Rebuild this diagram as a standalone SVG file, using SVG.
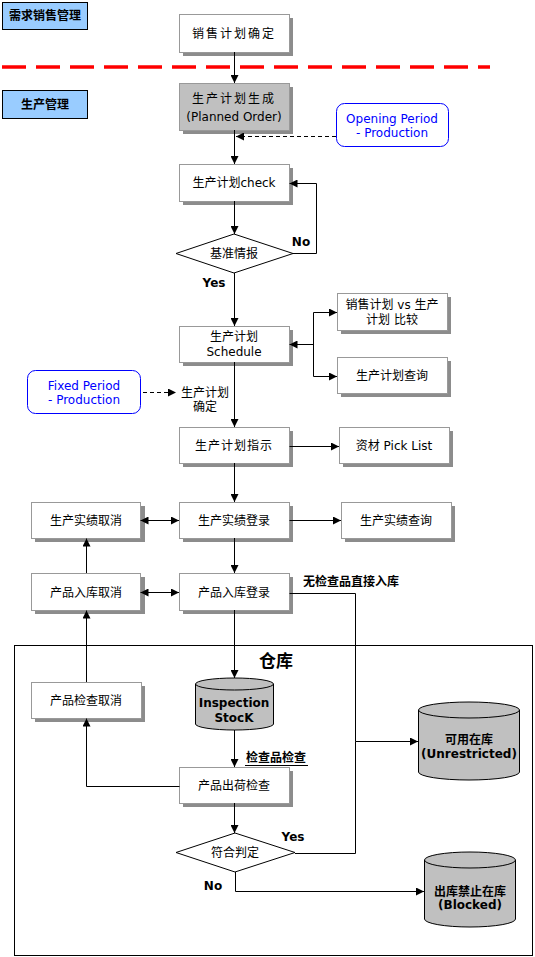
<svg xmlns="http://www.w3.org/2000/svg" width="535" height="957" viewBox="0 0 535 957">
<defs>
<style>
text{font-family:"DejaVu Sans","Noto Sans CJK SC",sans-serif;font-size:12px;fill:#000;text-anchor:middle}
.b{font-weight:bold}
.blue{fill:#0000FF}
.sh{fill:#8c8c8c}
.box{fill:#fff;stroke:#999;stroke-width:1}
.gbox{fill:#C0C0C0;stroke:#999;stroke-width:1}
.lab{fill:#99CCFF;stroke:#000;stroke-width:1}
.cyl{fill:#C0C0C0;stroke:#000;stroke-width:1}
.dia{fill:#fff;stroke:#000;stroke-width:1}
.rnd{fill:#fff;stroke:#0000FF;stroke-width:1}
.c{fill:none;stroke:#000;stroke-width:1}
.d{fill:none;stroke:#000;stroke-width:1;stroke-dasharray:4 3}
.ar{marker-end:url(#ah)}
.dbl{marker-start:url(#ah);marker-end:url(#ah)}
</style>
<marker id="ah" viewBox="0 0 10 10" refX="10" refY="5" markerWidth="8" markerHeight="8" markerUnits="userSpaceOnUse" orient="auto-start-reverse">
<path d="M0,0 L10,5 L0,10 z" fill="#000"/>
</marker>
</defs>
<rect width="535" height="957" fill="#fff"/>

<g id="lane-sales"><rect class="lab" x="2.5" y="2.5" width="85" height="27"/><text class="b" x="45" y="20">需求销售管理</text></g>
<g id="lane-prod"><rect class="lab" x="2.5" y="90.5" width="85" height="28"/><text class="b" x="45" y="109">生产管理</text></g>
<line x1="2" y1="67" x2="490" y2="67" stroke="#FF0000" stroke-width="3.5" stroke-dasharray="24 10"/>

<g id="warehouse"><rect x="14.5" y="645.5" width="518" height="310" fill="none" stroke="#000"/><text class="b" x="276" y="667" style="font-size:17px">仓库</text></g>

<g id="n1"><rect class="sh" x="183" y="18" width="110" height="38"/><rect class="box" x="179.5" y="14.5" width="110" height="38"/><text x="234" y="38" letter-spacing="2">销售计划确定</text></g>
<g id="n2"><rect class="sh" x="183" y="87" width="110" height="47"/><rect class="gbox" x="179.5" y="83.5" width="110" height="47"/><text x="234" y="103" letter-spacing="2">生产计划生成</text><text x="234" y="121">(Planned Order)</text></g>
<g id="opening"><rect class="rnd" x="336.5" y="103.5" width="112" height="43" rx="8"/><text class="blue" x="392" y="123">Opening Period</text><text class="blue" x="392" y="137">- Production</text></g>
<g id="n3"><rect class="sh" x="183" y="168" width="110" height="37"/><rect class="box" x="179.5" y="164.5" width="110" height="37"/><text x="234" y="187">生产计划check</text></g>
<g id="d1"><polygon class="dia" points="234,234 293,253.5 234,273 176,253.5"/><text x="234" y="258">基准情报</text></g>
<g id="n4"><rect class="sh" x="183" y="330" width="110" height="36"/><rect class="box" x="179.5" y="326.5" width="110" height="36"/><text x="234" y="341">生产计划</text><text x="234" y="356">Schedule</text></g>
<g id="n5"><rect class="sh" x="341" y="297" width="110" height="37"/><rect class="box" x="337.5" y="293.5" width="110" height="37"/><text x="392" y="309">销售计划 vs 生产</text><text x="392" y="324">计划 比较</text></g>
<g id="n6"><rect class="sh" x="341" y="361" width="110" height="36"/><rect class="box" x="337.5" y="357.5" width="110" height="36"/><text x="392" y="380">生产计划查询</text></g>
<g id="fixed"><rect class="rnd" x="27.5" y="370.5" width="113" height="43" rx="8"/><text class="blue" x="84" y="390">Fixed Period</text><text class="blue" x="84" y="404">- Production</text></g>
<g id="t1"><text x="205" y="397">生产计划</text><text x="205" y="411">确定</text></g>
<g id="n7"><rect class="sh" x="183" y="431" width="110" height="36"/><rect class="box" x="179.5" y="427.5" width="110" height="36"/><text x="234" y="450" letter-spacing="1">生产计划指示</text></g>
<g id="n8"><rect class="sh" x="343" y="431" width="110" height="36"/><rect class="box" x="339.5" y="427.5" width="110" height="36"/><text x="394" y="450">资材 Pick List</text></g>
<g id="n9"><rect class="sh" x="35" y="506" width="110" height="36"/><rect class="box" x="31.5" y="502.5" width="109" height="36"/><text x="86" y="525">生产实绩取消</text></g>
<g id="n10"><rect class="sh" x="183" y="506" width="110" height="36"/><rect class="box" x="179.5" y="502.5" width="110" height="36"/><text x="234" y="525">生产实绩登录</text></g>
<g id="n11"><rect class="sh" x="345" y="506" width="110" height="36"/><rect class="box" x="341.5" y="502.5" width="110" height="36"/><text x="396" y="525">生产实绩查询</text></g>
<g id="n12"><rect class="sh" x="35" y="577" width="110" height="37"/><rect class="box" x="31.5" y="573.5" width="109" height="37"/><text x="86" y="597">产品入库取消</text></g>
<g id="n13"><rect class="sh" x="183" y="577" width="110" height="37"/><rect class="box" x="179.5" y="573.5" width="110" height="37"/><text x="234" y="597">产品入库登录</text></g>
<g id="t2"><text class="b" x="351" y="586">无检查品直接入库</text></g>
<g id="n14"><rect class="sh" x="35" y="686" width="110" height="36"/><rect class="box" x="31.5" y="682.5" width="110" height="36"/><text x="86" y="705">产品检查取消</text></g>
<g id="c1"><path class="cyl" d="M195.5,684 A39,6 0 0 1 273.5,684 V724 A39,6 0 0 1 195.5,724 Z"/><path class="c" d="M195.5,684 A39,6 0 0 0 273.5,684"/><text class="b" x="234" y="707">Inspection</text><text class="b" x="234" y="722">StocK</text></g>
<g id="t3"><text class="b" x="276" y="762">检查品检查</text><line x1="245" y1="765.5" x2="308" y2="765.5" stroke="#000"/></g>
<g id="n15"><rect class="sh" x="183" y="771" width="110" height="36"/><rect class="box" x="179.5" y="767.5" width="110" height="36"/><text x="234" y="790">产品出荷检查</text></g>
<g id="d2"><polygon class="dia" points="235,833 295,852.5 235,872 176,852.5"/><text x="235" y="857">符合判定</text></g>
<g id="c2"><path class="cyl" d="M418.5,710 A50.5,8 0 0 1 519.5,710 V772 A50.5,8 0 0 1 418.5,772 Z"/><path class="c" d="M418.5,710 A50.5,8 0 0 0 519.5,710"/><text class="b" x="469" y="744">可用在库</text><text class="b" x="469" y="758">(Unrestricted)</text></g>
<g id="c3"><path class="cyl" d="M424.5,860 A45.5,8 0 0 1 515.5,860 V919 A45.5,8 0 0 1 424.5,919 Z"/><path class="c" d="M424.5,860 A45.5,8 0 0 0 515.5,860"/><text class="b" x="470" y="896">出库禁止在库</text><text class="b" x="470" y="909">(Blocked)</text></g>

<g id="labels"><text class="b" x="301" y="246">No</text><text class="b" x="214" y="287">Yes</text><text class="b" x="293" y="841">Yes</text><text class="b" x="213" y="890">No</text></g>

<g id="connectors">
<path class="c ar" d="M234.5,52 V83"/>
<path class="d ar" d="M336,136.5 H236"/>
<path class="c ar" d="M234.5,130 V164"/>
<path class="c ar" d="M234.5,201 V234"/>
<path class="c ar" d="M293,253.5 H316.5 V183.5 H289.5"/>
<path class="c ar" d="M234.5,273 V326"/>
<path class="c ar" d="M313.5,344.5 H289.5"/>
<path class="c" d="M313.5,312.5 V376.5"/>
<path class="c ar" d="M313.5,312.5 H337"/>
<path class="c ar" d="M313.5,376.5 H337"/>
<path class="d ar" d="M143,392.5 H176"/>
<path class="c ar" d="M234.5,362 V427"/>
<path class="c ar" d="M289.5,446.5 H339"/>
<path class="c ar" d="M234.5,463 V502"/>
<path class="c dbl" d="M140.5,520.5 H179"/>
<path class="c ar" d="M289.5,520.5 H341"/>
<path class="c ar" d="M234.5,538 V573"/>
<path class="c dbl" d="M140.5,592.5 H179"/>
<path class="c ar" d="M86.5,573 V538.5"/>
<path class="c ar" d="M86.5,682 V610.5"/>
<path class="c ar" d="M289.5,593.5 H355.5 V741.5 H418"/>
<path class="c ar" d="M234.5,610 V678"/>
<path class="c ar" d="M234.5,730 V767"/>
<path class="c ar" d="M179.5,786.5 H86.5 V718.5"/>
<path class="c ar" d="M234.5,803 V833"/>
<path class="c" d="M295,853.5 H355.5 V741.5"/>
<path class="c ar" d="M235.5,872 V891.5 H424"/>
</g>
</svg>
